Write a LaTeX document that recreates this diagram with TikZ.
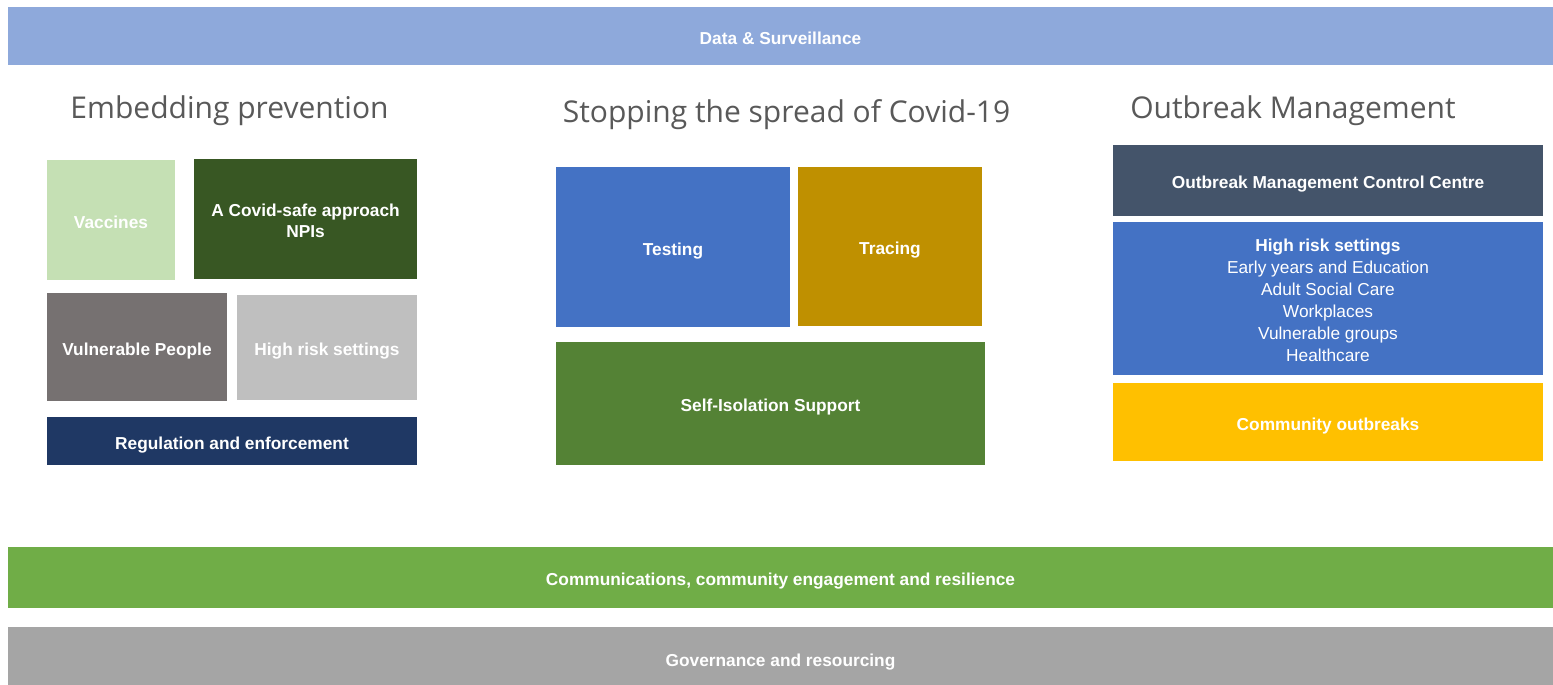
\documentclass[tikz,border=0pt]{standalone}
\usepackage{fontspec}
\setmainfont{Liberation Sans}
\newfontfamily\titlefont{Open Sans}
\definecolor{cData}{HTML}{8EA9DB}
\definecolor{cVacc}{HTML}{C5E0B4}
\definecolor{cCovid}{HTML}{385723}
\definecolor{cVuln}{HTML}{767171}
\definecolor{cHrs}{HTML}{BFBFBF}
\definecolor{cReg}{HTML}{1F3864}
\definecolor{cTest}{HTML}{4472C4}
\definecolor{cTrac}{HTML}{BF9000}
\definecolor{cSelf}{HTML}{548235}
\definecolor{cOmcc}{HTML}{44546A}
\definecolor{cComm}{HTML}{FFC000}
\definecolor{cComms}{HTML}{70AD47}
\definecolor{cGov}{HTML}{A5A5A5}
\definecolor{cTitle}{HTML}{595959}
\tikzset{
  box/.style={rectangle, inner sep=0pt, outer sep=0pt, draw=none, text=white, align=center,
    font=\fontsize{17.3}{21}\selectfont\bfseries},
  oneline/.style={text height=16.4pt, text depth=0pt},
  title/.style={anchor=base, inner sep=0pt, text=cTitle, font=\titlefont\fontsize{30}{36}\selectfont}
}
\begin{document}
\begin{tikzpicture}[x=1pt,y=-1pt]
\useasboundingbox[fill=white] (0,0) rectangle (1553,685);
% bars
\node[box, oneline, fill=cData, minimum width=1545pt, minimum height=58pt] (data) at (780.5,36) {Data \& Surveillance};
\node[box, oneline, fill=cComms, minimum width=1545pt, minimum height=61pt] (comms) at (780.5,577.5) {Communications, community engagement and resilience};
\node[box, oneline, text height=20.4pt, fill=cGov, minimum width=1545pt, minimum height=58pt] (gov) at (780.5,656) {Governance and resourcing};
% titles
\node[title] (t1) at (229.5,118) {Embedding prevention};
\node[title] (t2) at (786.5,122) {Stopping the spread of Covid-19};
\node[title] (t3) at (1293,118) {Outbreak Management};
% left column
\node[box, oneline, fill=cVacc, minimum width=128pt, minimum height=120pt] (vacc) at (111,220) {Vaccines};
\node[box, fill=cCovid, minimum width=223pt, minimum height=120pt] (covid) at (305.5,219) {\rule{0pt}{0pt}\\[-4pt]A Covid-safe approach\\NPIs};
\node[box, oneline, fill=cVuln, minimum width=180pt, minimum height=108pt] (vuln) at (137,347) {Vulnerable People};
\node[box, oneline, fill=cHrs, minimum width=180pt, minimum height=105pt] (hrs) at (327,347.5) {High risk settings};
\node[box, oneline, fill=cReg, minimum width=370pt, minimum height=48pt] (reg) at (232,441) {Regulation and enforcement};
% middle column
\node[box, oneline, fill=cTest, minimum width=234pt, minimum height=160pt] (test) at (673,247) {Testing};
\node[box, oneline, fill=cTrac, minimum width=184pt, minimum height=159pt] (trac) at (890,246.5) {Tracing};
\node[box, oneline, fill=cSelf, minimum width=429pt, minimum height=123pt] (self) at (770.5,403.5) {Self-Isolation Support};
% right column
\node[box, oneline, fill=cOmcc, minimum width=430pt, minimum height=71pt] (omcc) at (1328,180.5) {Outbreak Management Control Centre};
\node[box, fill=cTest, minimum width=430pt, minimum height=153pt, font=\fontsize{17.3}{22}\selectfont] (hr2) at (1328,298.5)
  {\rule{0pt}{0pt}\\[-5pt]\bfseries High risk settings\\Early years and Education\\Adult Social Care\\Workplaces\\Vulnerable groups\\Healthcare};
\node[box, oneline, fill=cComm, minimum width=430pt, minimum height=78pt] (comm) at (1328,422) {Community outbreaks};
\end{tikzpicture}
\end{document}
